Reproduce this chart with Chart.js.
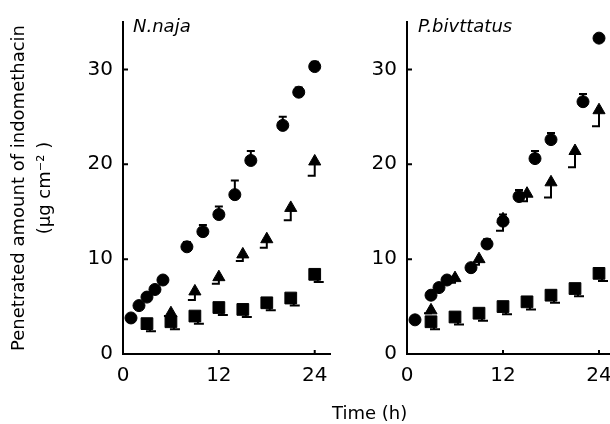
<!DOCTYPE html>
<html>
<head>
<meta charset="utf-8">
<script src="https://cdn.jsdelivr.net/npm/chart.js@4.4.1/dist/chart.umd.min.js"></script>
<style>
  body { margin: 0; width: 610px; height: 424px; overflow: hidden; background: #fff; position: relative; font-family: "DejaVu Sans", sans-serif; }
  canvas { position: absolute; top: 0; }
  #leftChart { left: 0; }
  #rightChart { left: 340px; }
  .lbl { position: absolute; color: #000; line-height: 18px; white-space: nowrap; }
  .ital { font-style: italic; font-size: 18px; }
</style>
</head>
<body>
<canvas id="leftChart" width="340" height="424" style="width:340px;height:424px"></canvas>
<canvas id="rightChart" width="290" height="424" style="width:290px;height:424px"></canvas>
<div class="lbl ital" style="left:133px;top:17px">N.naja</div>
<div class="lbl ital" style="left:418px;top:17px">P.bivttatus</div>
<div class="lbl" style="left:332px;top:404px;font-size:18px">Time (h)</div>
<script>
// ticks
const xTicks = [0, 12, 24];
const yTicks = [0, 10, 20, 30];

/* ===== N. naja ===== */
const najaCircX = [1, 2, 3, 4, 5, 8, 10, 12, 14, 16, 20, 22, 24];
const najaCircY = [3.8, 5.1, 6.0, 6.8, 7.8, 11.3, 12.9, 14.7, 16.8, 20.4, 24.1, 27.6, 30.3];
const najaCircE = [0.2, 0.2, 0.2, 0.2, 0.3, 0.5, 0.7, 0.85, 1.5, 1.0, 0.9, 0.5, 0.5];

const najaTriX = [6, 9, 12, 15, 18, 21, 24];
const najaTriY = [4.3, 6.6, 8.1, 10.5, 12.1, 15.4, 20.3];
const najaTriE = [0.3, 0.9, 0.7, 0.7, 0.9, 1.3, 1.5];

const najaSqX = [3, 6, 9, 12, 15, 18, 21, 24];
const najaSqY = [3.2, 3.4, 4.0, 4.9, 4.7, 5.4, 5.9, 8.4];
const najaSqE = [0.8, 0.8, 0.8, 0.8, 0.8, 0.8, 0.8, 0.8];

/* ===== P. bivittatus ===== */
const bivCircX = [1, 3, 4, 5, 8, 10, 12, 14, 16, 18, 22, 24];
const bivCircY = [3.6, 6.2, 7.0, 7.8, 9.1, 11.6, 14.0, 16.6, 20.6, 22.6, 26.6, 33.3];
const bivCircE = [0.2, 0.2, 0.2, 0.3, 0.4, 0.5, 0.7, 0.7, 0.8, 0.7, 0.8, 0.2];

const bivTriX = [3, 6, 9, 12, 15, 18, 21, 24];
const bivTriY = [4.6, 8.0, 10.0, 14.2, 16.9, 18.1, 21.4, 25.7];
const bivTriE = [0.3, 0.5, 0.6, 1.2, 0.8, 1.6, 1.7, 1.7];

const bivSqX = [3, 6, 9, 12, 15, 18, 21, 24];
const bivSqY = [3.4, 3.9, 4.3, 5.0, 5.5, 6.2, 6.9, 8.5];
const bivSqE = [0.8, 0.8, 0.8, 0.8, 0.8, 0.8, 0.8, 0.8];

function pts(xs, ys) {
  return xs.map((x, i) => ({ x: x, y: ys[i] }));
}

function makeSets(cx, cy, ce, tx, ty, te, sx, sy, se) {
  return [
    { data: pts(sx, sy), errs: se, errKind: "sq", pointStyle: "rect", pointRadius: 8.3 },
    { data: pts(tx, ty), errs: te, errKind: "tri", pointStyle: "triangle", pointRadius: 7 },
    { data: pts(cx, cy), errs: ce, errKind: "circ", pointStyle: "circle", pointRadius: 6 },
  ].map((d) => Object.assign(d, {
    backgroundColor: "#000",
    borderColor: "#000",
    borderWidth: 1,
    pointHoverRadius: d.pointRadius,
    showLine: false,
  }));
}

// error bars + inward tick marks
const errPlugin = {
  id: "errBars",
  afterDatasetsDraw(chart) {
    const ctx = chart.ctx;
    const xs = chart.scales.x, ys = chart.scales.y;
    ctx.save();
    ctx.strokeStyle = "#000";
    ctx.lineWidth = 2;
    chart.data.datasets.forEach((ds) => {
      ds.data.forEach((p, i) => {
        const e = ds.errs[i];
        const px = xs.getPixelForValue(p.x);
        const py = ys.getPixelForValue(p.y);
        ctx.beginPath();
        if (ds.errKind === "circ") {
          const ty = ys.getPixelForValue(p.y + e);
          ctx.moveTo(px, py); ctx.lineTo(px, ty);
          ctx.moveTo(px - 4, ty); ctx.lineTo(px + 4, ty);
        } else if (ds.errKind === "tri") {
          const by = ys.getPixelForValue(p.y - e);
          ctx.moveTo(px, py); ctx.lineTo(px, by);
          ctx.moveTo(px - 7, by); ctx.lineTo(px + 1, by);
        } else {
          const by = ys.getPixelForValue(p.y - e);
          ctx.moveTo(px + 3, py); ctx.lineTo(px + 3, by);
          ctx.moveTo(px - 1, by); ctx.lineTo(px + 9, by);
        }
        ctx.stroke();
      });
    });
    // inward ticks
    ctx.beginPath();
    yTicks.slice(1).forEach((v) => {
      const y = ys.getPixelForValue(v);
      ctx.moveTo(xs.left, y); ctx.lineTo(xs.left + 5, y);
    });
    xTicks.slice(1).forEach((v) => {
      const x = xs.getPixelForValue(v);
      ctx.moveTo(x, ys.bottom); ctx.lineTo(x, ys.bottom - 4);
    });
    ctx.stroke();
    ctx.restore();
  },
};

function makeChart(id, sets, yWidth, padRight, showTitle) {
  return new Chart(document.getElementById(id), {
    type: "scatter",
    data: { datasets: sets },
    plugins: [errPlugin],
    options: {
      responsive: false,
      animation: false,
      layout: { padding: { top: 15, right: padRight, left: 0, bottom: 0 } },
      plugins: { legend: { display: false }, tooltip: { enabled: false } },
      scales: {
        x: {
          type: "linear",
          min: 0,
          max: 26,
          afterBuildTicks: (s) => { s.ticks = xTicks.map((v) => ({ value: v })); },
          afterFit: (s) => { s.height = 70; },
          grid: { display: false, drawTicks: false },
          border: { color: "#000", width: 2 },
          ticks: { color: "#000", padding: 10, maxRotation: 0, font: { family: "DejaVu Sans", size: 20 } },
        },
        y: {
          min: 0,
          max: 35,
          afterBuildTicks: (s) => { s.ticks = yTicks.map((v) => ({ value: v })); },
          afterFit: (s) => { s.width = yWidth; },
          grid: { display: false, drawTicks: false },
          border: { color: "#000", width: 2 },
          ticks: { color: "#000", padding: 10, font: { family: "DejaVu Sans", size: 20 } },
          title: {
            display: showTitle,
            text: ["Penetrated amount of indomethacin", "(\u00b5g cm\u207b\u00b2 )"],
            color: "#000",
            font: { family: "DejaVu Sans", size: 18, lineHeight: 1.45 },
            padding: { top: 6, bottom: 0 },
          },
        },
      },
    },
  });
}

makeChart("leftChart",
  makeSets(najaCircX, najaCircY, najaCircE, najaTriX, najaTriY, najaTriE, najaSqX, najaSqY, najaSqE),
  123, 9, true);
makeChart("rightChart",
  makeSets(bivCircX, bivCircY, bivCircE, bivTriX, bivTriY, bivTriE, bivSqX, bivSqY, bivSqE),
  67, 15, false);
</script>
</body>
</html>
